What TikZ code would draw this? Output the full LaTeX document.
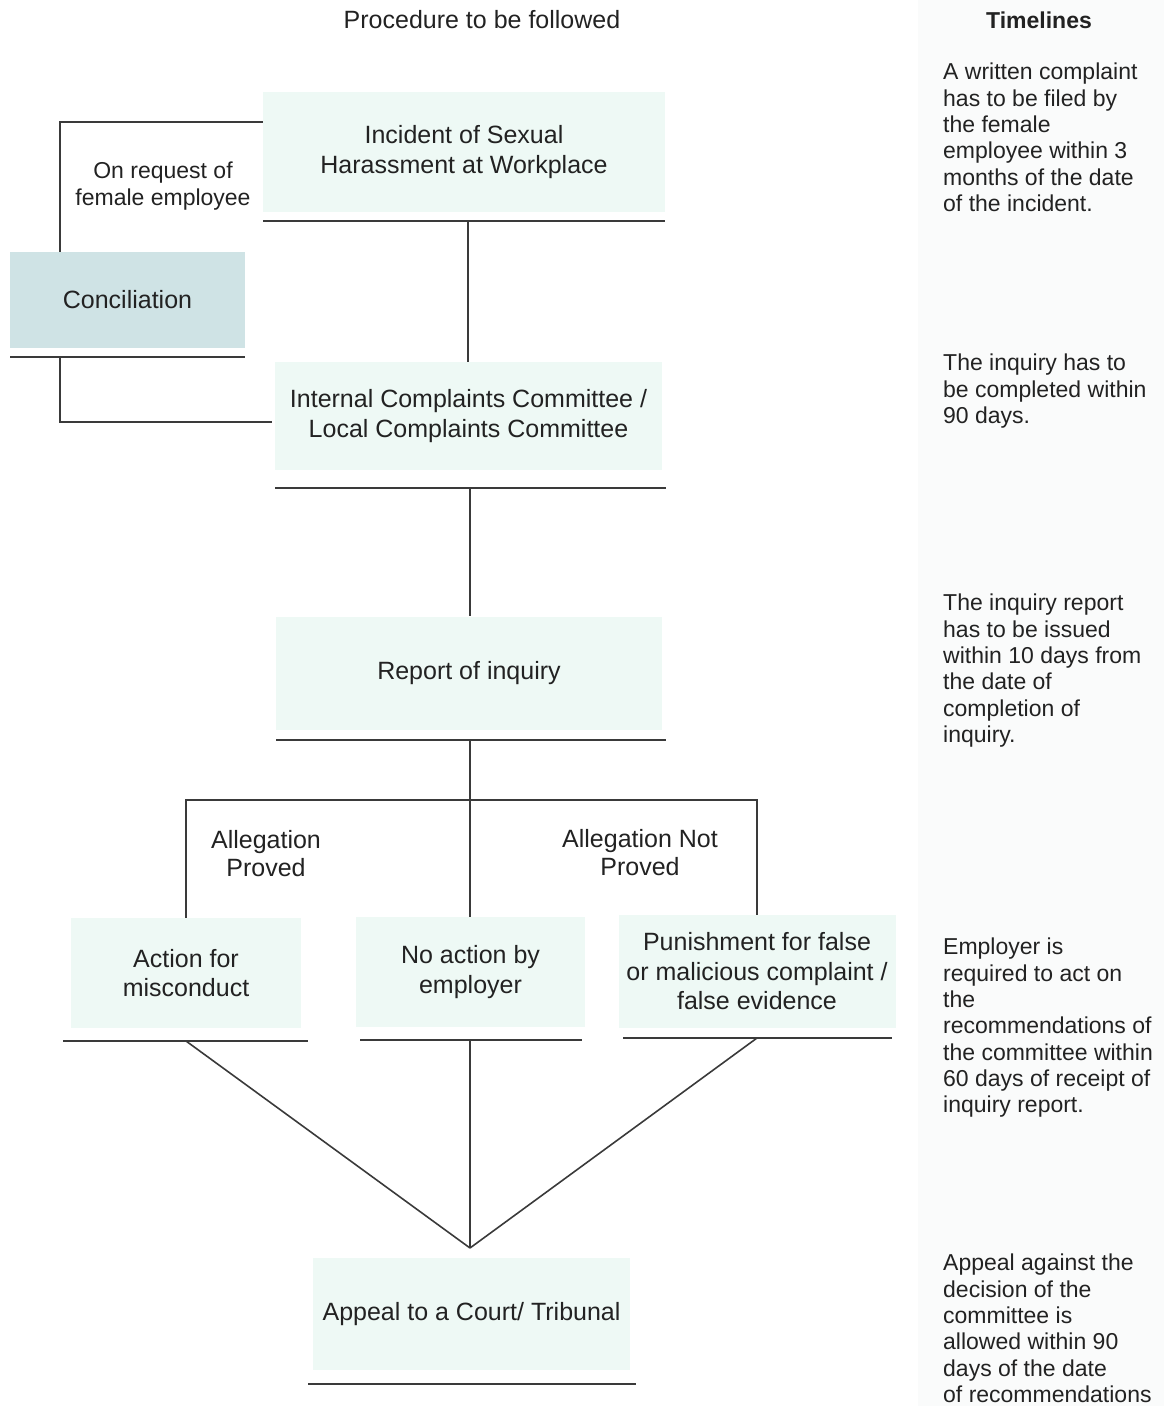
\documentclass[tikz,border=0pt]{standalone}
\usepackage{fontspec}
\setmainfont{Liberation Sans}
\definecolor{boxfill}{HTML}{EEF9F5}
\definecolor{concfill}{HTML}{CFE3E5}
\definecolor{panelbg}{HTML}{FAFBFB}
\definecolor{linecol}{HTML}{3A3A3A}
\definecolor{txt}{HTML}{222222}
\begin{document}
\begin{tikzpicture}[x=1pt,y=-1pt,
  boxnode/.style={fill=boxfill, inner sep=0pt, align=center, text=txt,
    font=\fontsize{25}{29.5}\selectfont},
  rule/.style={draw=linecol, line width=1.8pt},
  conn/.style={draw=linecol, line width=1.6pt},
  lbl/.style={inner sep=0pt, align=center, text=txt},
  timeline/.style={inner sep=0pt, align=left, anchor=north west, text=txt,
    font=\fontsize{23}{26.3}\selectfont}
]
\useasboundingbox (0,0) rectangle (1164,1406);
\fill[panelbg] (918,0) rectangle (1164,1406);

% headings
\node[lbl, font=\fontsize{25}{29}\selectfont] (title) at (482,20) {Procedure to be followed};
\node[lbl, font=\bfseries\fontsize{23}{27}\selectfont] (tlhead) at (1039,20) {Timelines};

% boxes
\node[boxnode, minimum width=402pt, minimum height=120pt] (inc) at (464,152) {Incident of Sexual\\Harassment at Workplace};
\node[boxnode, fill=concfill, minimum width=235pt, minimum height=96pt] (conc) at (127.5,300) {Conciliation};
\node[boxnode, minimum width=387pt, minimum height=108pt] (icc) at (468.5,416) {Internal Complaints Committee /\\Local Complaints Committee};
\node[boxnode, minimum width=386pt, minimum height=113pt] (rep) at (469,673) {Report of inquiry};
\node[boxnode, minimum width=230pt, minimum height=110pt] (act) at (186,973) {Action for\\misconduct};
\node[boxnode, minimum width=229pt, minimum height=110pt] (noa) at (470.5,972) {No action by\\employer};
\node[boxnode, minimum width=277pt, minimum height=113pt] (pun) at (757,971.5) {Punishment for false\\or malicious complaint /\\false evidence};
\node[boxnode, minimum width=317pt, minimum height=112pt] (app) at (471.5,1314) {Appeal to a Court/ Tribunal};

% bottom rules of boxes
\draw[rule] (263,221) -- (665,221);
\draw[rule] (10,357) -- (245,357);
\draw[rule] (275,488) -- (666,488);
\draw[rule] (276,740) -- (666,740);
\draw[rule] (63,1041) -- (308,1041);
\draw[rule] (360,1040) -- (582,1040);
\draw[rule] (623,1038) -- (892,1038);
\draw[rule] (308,1384) -- (636,1384);

% rule mid points used by connectors
\coordinate (incB) at (468,221);
\coordinate (concB) at (60,357);
\coordinate (iccB) at (470,488);
\coordinate (repB) at (470,740);
\coordinate (actB) at (186,1041);
\coordinate (noaB) at (470,1040);
\coordinate (punB) at (757,1038);
\coordinate (split) at (470,800);
\coordinate (conv) at (470,1248);

% connectors
\draw[conn] ([yshift=30pt]inc.west) -| ([xshift=-67.5pt]conc.north);
\draw[conn] (concB) |- ([yshift=-6pt,xshift=-3pt]icc.west);
\draw[conn] (incB) -- (incB |- icc.north);
\draw[conn] (iccB) -- (iccB |- rep.north);
\draw[conn] (repB) -- (repB |- noa.north);
\draw[conn] (act.north) |- (split) -| (pun.north);
\draw[conn] (actB) -- (conv);
\draw[conn] (noaB) -- (conv);
\draw[conn] (punB) -- (conv);

% connector labels
\node[lbl, font=\fontsize{23}{27}\selectfont] (lreq) at (163,186) {On request of\\female employee};
\node[lbl, font=\fontsize{25}{28}\selectfont] (lpro) at (266,854) {Allegation\\Proved};
\node[lbl, font=\fontsize{25}{28}\selectfont] (lnot) at (640,853) {Allegation Not\\Proved};

% timelines
\node[timeline] (t1) at (943,63) {A written complaint\\has to be filed by\\the female\\employee within 3\\months of the date\\of the incident.};
\node[timeline] (t2) at (943,354) {The inquiry has to\\be completed within\\90 days.};
\node[timeline] (t3) at (943,594) {The inquiry report\\has to be issued\\within 10 days from\\the date of\\completion of\\inquiry.};
\node[timeline] (t4) at (943,938) {Employer is\\required to act on\\the\\recommendations of\\the committee within\\60 days of receipt of\\inquiry report.};
\node[timeline] (t5) at (943,1254) {Appeal against the\\decision of the\\committee is\\allowed within 90\\days of the date\\of recommendations};
\end{tikzpicture}
\end{document}
